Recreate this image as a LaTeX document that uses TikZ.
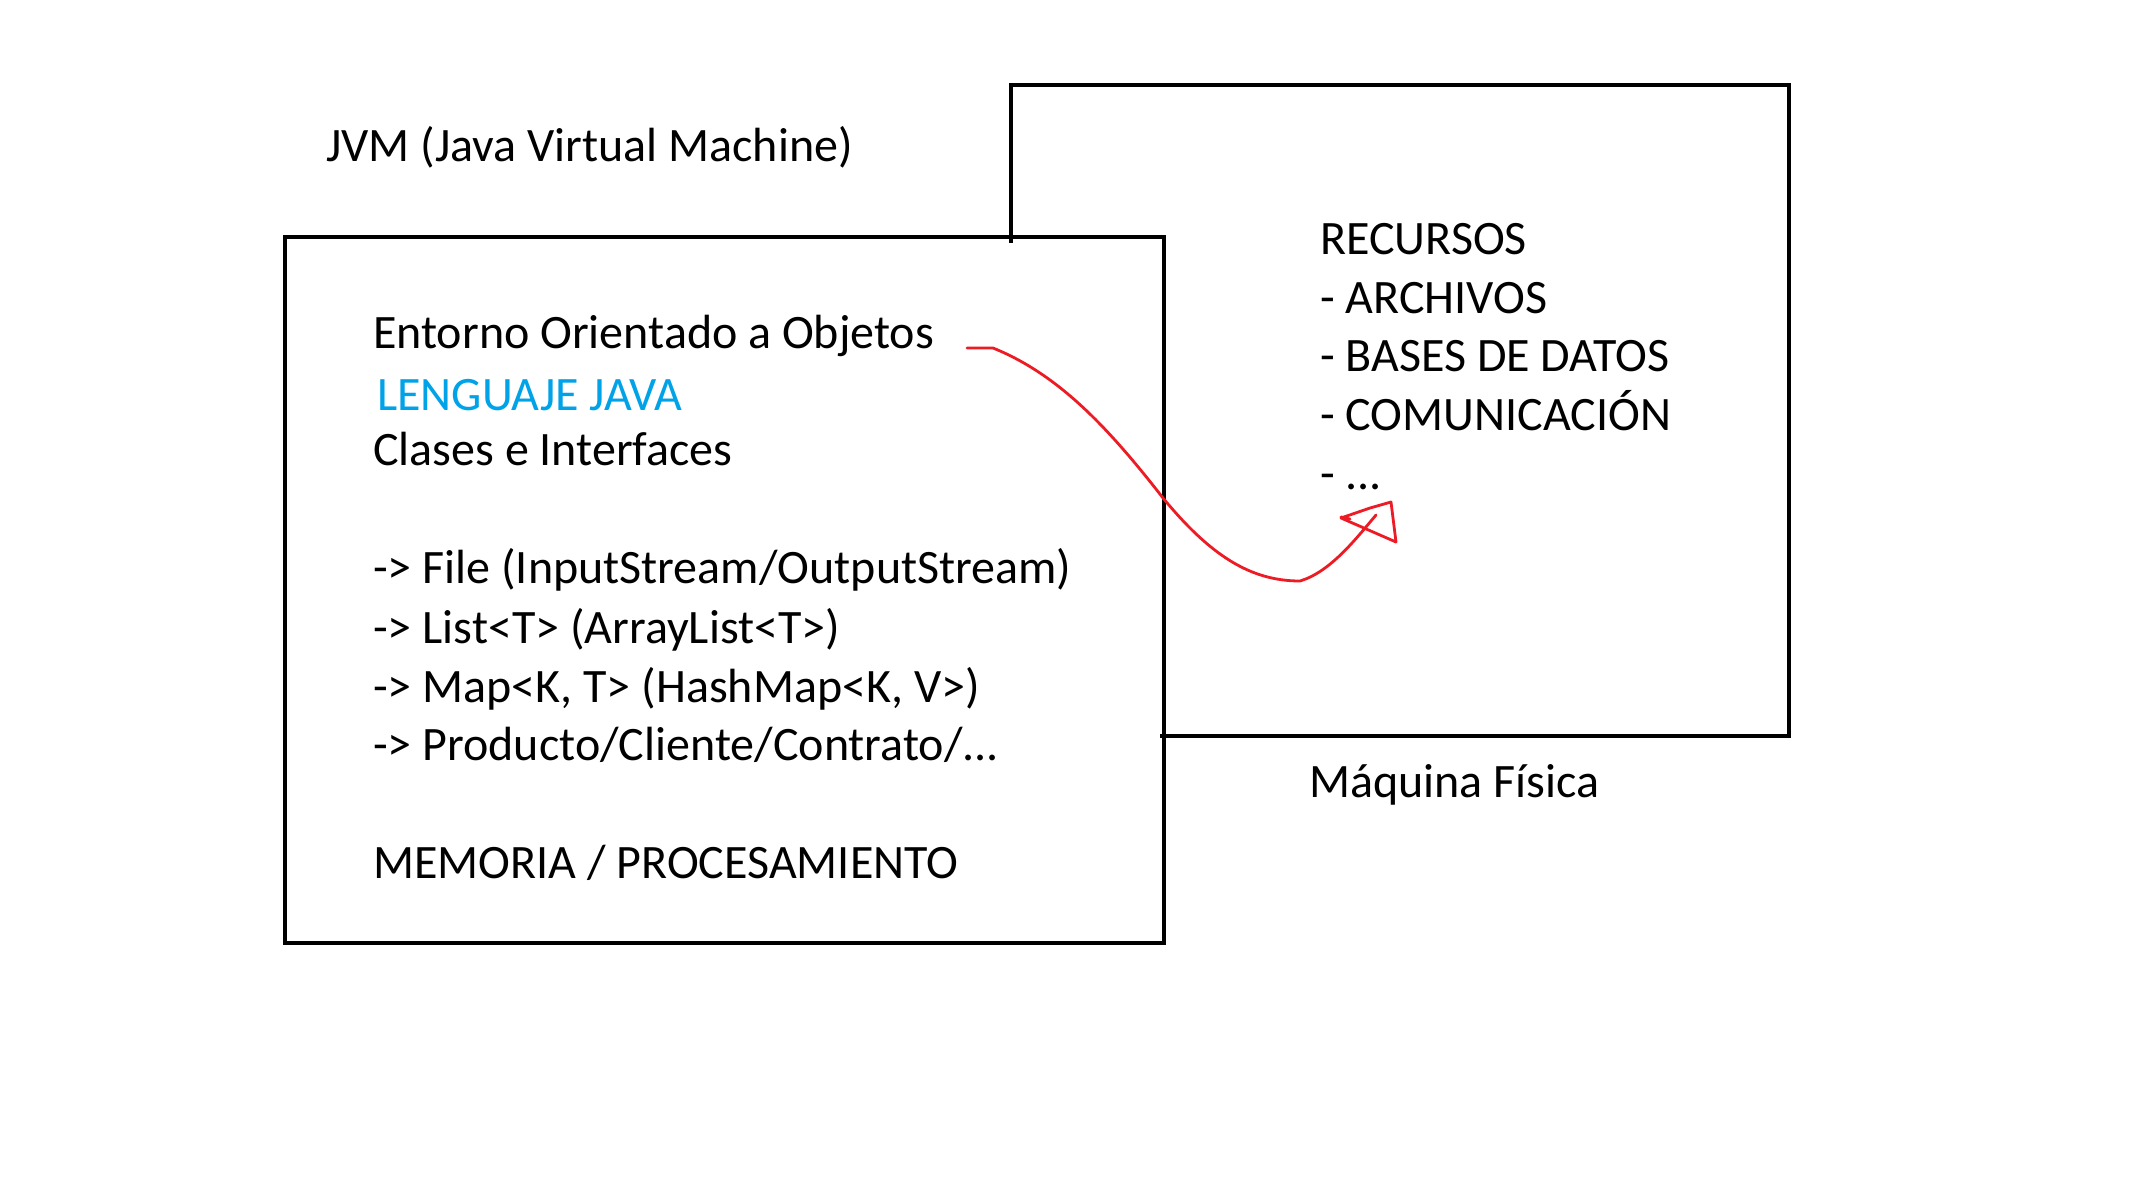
\documentclass[tikz,border=0pt]{standalone}
\usepackage{fontspec}
\setmainfont{Carlito}
\definecolor{paintred}{RGB}{237,28,36}
\definecolor{paintblue}{RGB}{0,162,232}
\begin{document}
\begin{tikzpicture}[x=1pt,y=-1pt,
  boxline/.style={line width=4.5pt,line cap=rect},
  lbl/.style={anchor=base west,inner sep=0pt,font=\fontsize{48}{56}\selectfont},
  redline/.style={draw=paintred,line width=2.8pt,line join=round,line cap=round}]
\useasboundingbox[fill=white] (0,0) rectangle (2153,1192);
% right box (Maquina Fisica)
\coordinate (rtl) at (1011,85);
\coordinate (rtr) at (1789,85);
\coordinate (rbr) at (1789,736);
\coordinate (rbl) at (1162,736);
\coordinate (rlb) at (1011,241);
\draw[boxline] (rlb) -- (rtl) -- (rtr) -- (rbr) -- (rbl);
% left box (JVM)
\node[draw,boxline,minimum width=879pt,minimum height=706pt,inner sep=0pt,outer sep=0pt,anchor=north west] (jvm) at (285,237) {};
% texts
\node[lbl] (title) at (326,161) {JVM (Java Virtual Machine)};
\node[lbl] (entorno) at (373,348) {Entorno Orientado a Objetos};
\node[lbl,text=paintblue] (lenguaje) at (377,410) {LENGUAJE JAVA};
\node[lbl] (clases) at (373,465) {Clases e Interfaces};
\node[lbl] (file) at (373,583) {-> File (InputStream/OutputStream)};
\node[lbl] (list) at (373,643) {-> List<T> (ArrayList<T>)};
\node[lbl] (map) at (373,702) {-> Map<K, T> (HashMap<K, V>)};
\node[lbl] (prod) at (373,760) {-> Producto/Cliente/Contrato/...};
\node[lbl] (mem) at (373,878) {MEMORIA / PROCESAMIENTO};
\node[lbl] (recursos) at (1320,254) {RECURSOS};
\node[lbl] (archivos) at (1320,313) {- ARCHIVOS};
\node[lbl] (bases) at (1320,371) {- BASES DE DATOS};
\node[lbl] (comu) at (1320,430) {- COMUNICACIÓN};
\node[lbl] (etc) at (1320,489) {- ...};
\node[lbl] (maquina) at (1309,797) {Máquina Física};
% red hand-drawn arrow
\coordinate (astart) at (967,348);
\coordinate (aend) at (1376,515);
\draw[redline] (astart) -- (993,348) .. controls (1060,375) and (1110,430) .. (1163,498)
  .. controls (1210,555) and (1250,581) .. (1300,581)
  .. controls (1330,572) and (1355,540) .. (aend);
\draw[redline] (1341,518) -- (1370,508) -- (1391,502) -- (1396,542) -- cycle;
\draw[redline] (1341,517) -- (1350,519);
\end{tikzpicture}
\end{document}
